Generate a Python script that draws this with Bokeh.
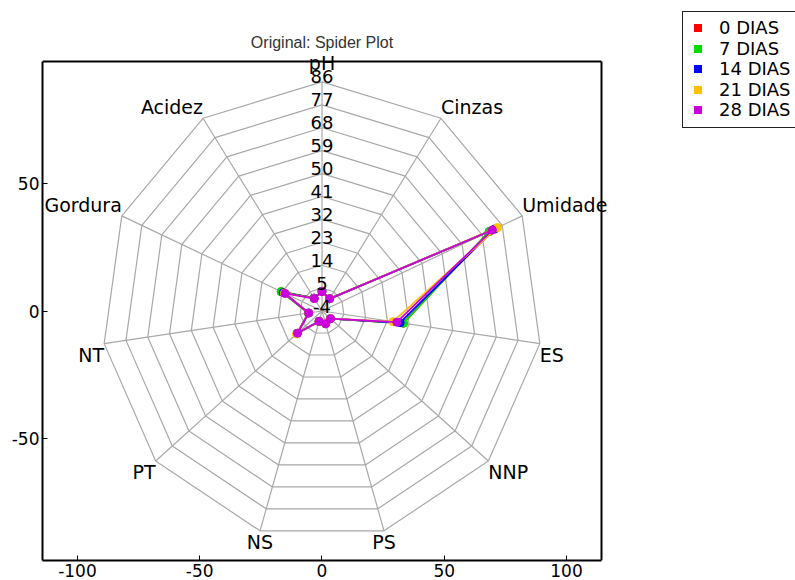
import numpy as np
from bokeh.plotting import figure
from bokeh.layouts import row
from bokeh.models import Range1d, FixedTicker, Div
from bokeh.core.properties import value
from bokeh.embed import file_html
from bokeh.resources import INLINE

# Spokes, counter-clockwise from the top
variables = ["pH", "Acidez", "Gordura", "NT", "PT", "NS", "PS", "NNP", "ES", "Umidade", "Cinzas"]
# Radial scale labels (one per ring, the first sits at the centre)
ring_ticks = [-4, 5, 14, 23, 32, 41, 50, 59, 68, 77, 86]

series_names = ["0 DIAS", "7 DIAS", "14 DIAS", "21 DIAS", "28 DIAS"]
dias_0 = [3.8, 2.0, 14.3, 1.6, 9.4, 0.3, 1.2, 0.6, 29.6, 71.2, 1.8]
dias_7 = [3.8, 2.0, 14.4, 1.6, 9.4, 0.3, 1.2, 0.6, 29.7, 71.1, 1.8]
dias_14 = [3.7, 2.0, 13.4, 1.5, 9.5, 0.2, 1.1, 0.5, 28.3, 73.7, 1.7]
dias_21 = [3.6, 1.9, 12.9, 1.5, 9.8, 0.2, 1.1, 0.5, 25.3, 74.9, 1.7]
dias_28 = [3.6, 1.8, 12.6, 1.5, 9.3, 0.2, 1.2, 0.6, 26.9, 72.6, 1.7]
series_values = [dias_0, dias_7, dias_14, dias_21, dias_28]
colors = ["#ff0000", "#00dd00", "#0000ff", "#ffc000", "#cc00dd"]

x_ticks = [-100, -50, 0, 50, 100]
y_ticks = [-50, 0, 50]
title_text = "Original: Spider Plot"

FONT = "DejaVu Sans"
r_min = ring_ticks[0]
n = len(variables)
angles = np.pi / 2 + 2 * np.pi * np.arange(n) / n
r_outer = ring_ticks[-1] - r_min

# visible axes box (data units); the drawing area reaches a little past its
# top and right edges so the outer names and the title are not cut off
X_LO, X_HI = -114.3, 114.3
Y_LO, Y_HI = -98.0, 98.0


def to_xy(vals):
    r = np.asarray(vals, dtype=float) - r_min
    return r * np.cos(angles), r * np.sin(angles)


p = figure(width=682, height=580,
           x_range=Range1d(X_LO, 130.25), y_range=Range1d(Y_LO, 110.2),
           output_backend="svg", toolbar_location=None,
           min_border_left=42, min_border_right=42,
           min_border_top=30, min_border_bottom=20)
p.grid.visible = False
p.outline_line_color = None
p.background_fill_color = "white"
p.border_fill_color = "white"

for ax, ticks in ((p.xaxis[0], x_ticks), (p.yaxis[0], y_ticks)):
    ax.ticker = FixedTicker(ticks=ticks)
    ax.major_label_overrides = {t: str(t) for t in ticks}
    ax.axis_line_color = "black"
    ax.axis_line_width = 2
    ax.major_tick_in = 5
    ax.major_tick_out = 0
    ax.major_tick_line_color = "black"
    ax.minor_tick_line_color = None
    ax.major_label_text_font = FONT
    ax.major_label_text_font_size = "17px"
    ax.major_label_text_color = "black"
    ax.major_label_standoff = 3
p.xaxis[0].bounds = (X_LO, X_HI)
p.yaxis[0].bounds = (Y_LO, Y_HI)

# top and right edges of the axes box
p.segment(x0=[X_LO, X_HI], y0=[Y_HI, Y_LO], x1=[X_HI, X_HI], y1=[Y_HI, Y_HI],
          line_color="black", line_width=2)

# web: spokes and rings
grid_color = "#a8a8a8"
sx = [[0, r_outer * np.cos(a)] for a in angles]
sy = [[0, r_outer * np.sin(a)] for a in angles]
p.multi_line(sx, sy, line_color=grid_color, line_width=1.2)
rx, ry = [], []
for t in ring_ticks[1:]:
    r = t - r_min
    rx.append(list(r * np.cos(np.append(angles, angles[0]))))
    ry.append(list(r * np.sin(np.append(angles, angles[0]))))
p.multi_line(rx, ry, line_color=grid_color, line_width=1.2)

# variable names at the outer ring
for name, a in zip(variables, angles):
    c, s = np.cos(a), np.sin(a)
    if abs(c) < 0.3:
        align = "center"
    elif c > 0:
        align = "left"
    else:
        align = "right"
    baseline = "bottom" if s > 0 else "top"
    yoff = -8 if name == "pH" else 0
    p.text(x=[r_outer * c], y=[r_outer * s], text=[name], text_align=align,
           text_baseline=baseline, y_offset=yoff, text_font=value(FONT),
           text_font_size="19px", text_color="black")

# series
for name, vals, col in zip(series_names, series_values, colors):
    x, y = to_xy(vals)
    p.line(list(np.append(x, x[0])), list(np.append(y, y[0])), line_color=col, line_width=1.8)
    p.scatter(list(x), list(y), marker="circle", size=8, fill_color=col, line_color=col)

# ring labels along the pH spoke, on top of the series
p.text(x=[0] * len(ring_ticks), y=[t - r_min for t in ring_ticks],
       text=[str(t) for t in ring_ticks], text_align="center",
       text_baseline="middle", y_offset=-5, text_font=value(FONT),
       text_font_size="18px", text_color="black")

# title centred over the axes box
p.text(x=[0], y=[Y_HI], text=[title_text], text_align="center",
       text_baseline="middle", y_offset=-19, text_font=value("Liberation Sans"),
       text_font_size="16px", text_color="#333333")

# legend box to the right of the chart
rows_html = "".join(
    '<div style="height:20.5px;line-height:20.5px;white-space:nowrap">'
    f'<span style="display:inline-block;width:8px;height:8px;background:{col};'
    'margin:0 17px 0 0;vertical-align:middle;position:relative;top:-1px"></span>'
    f'{name}</div>'
    for name, col in zip(series_names, colors)
)
legend_html = (
    f'<div style="margin-top:11px;border:1px solid #222;border-right:none;'
    f'padding:6px 0 6px 11px;font-family:\'{FONT}\';font-size:18px;color:black;'
    f'background:white;width:120px">{rows_html}</div>'
)
legend_box = Div(text=legend_html, width=113, height=580,
                 styles={"overflow": "hidden", "margin": "0", "padding": "0"})

layout = row(p, legend_box, spacing=0)
open("out.html", "w").write(file_html(layout, INLINE))
